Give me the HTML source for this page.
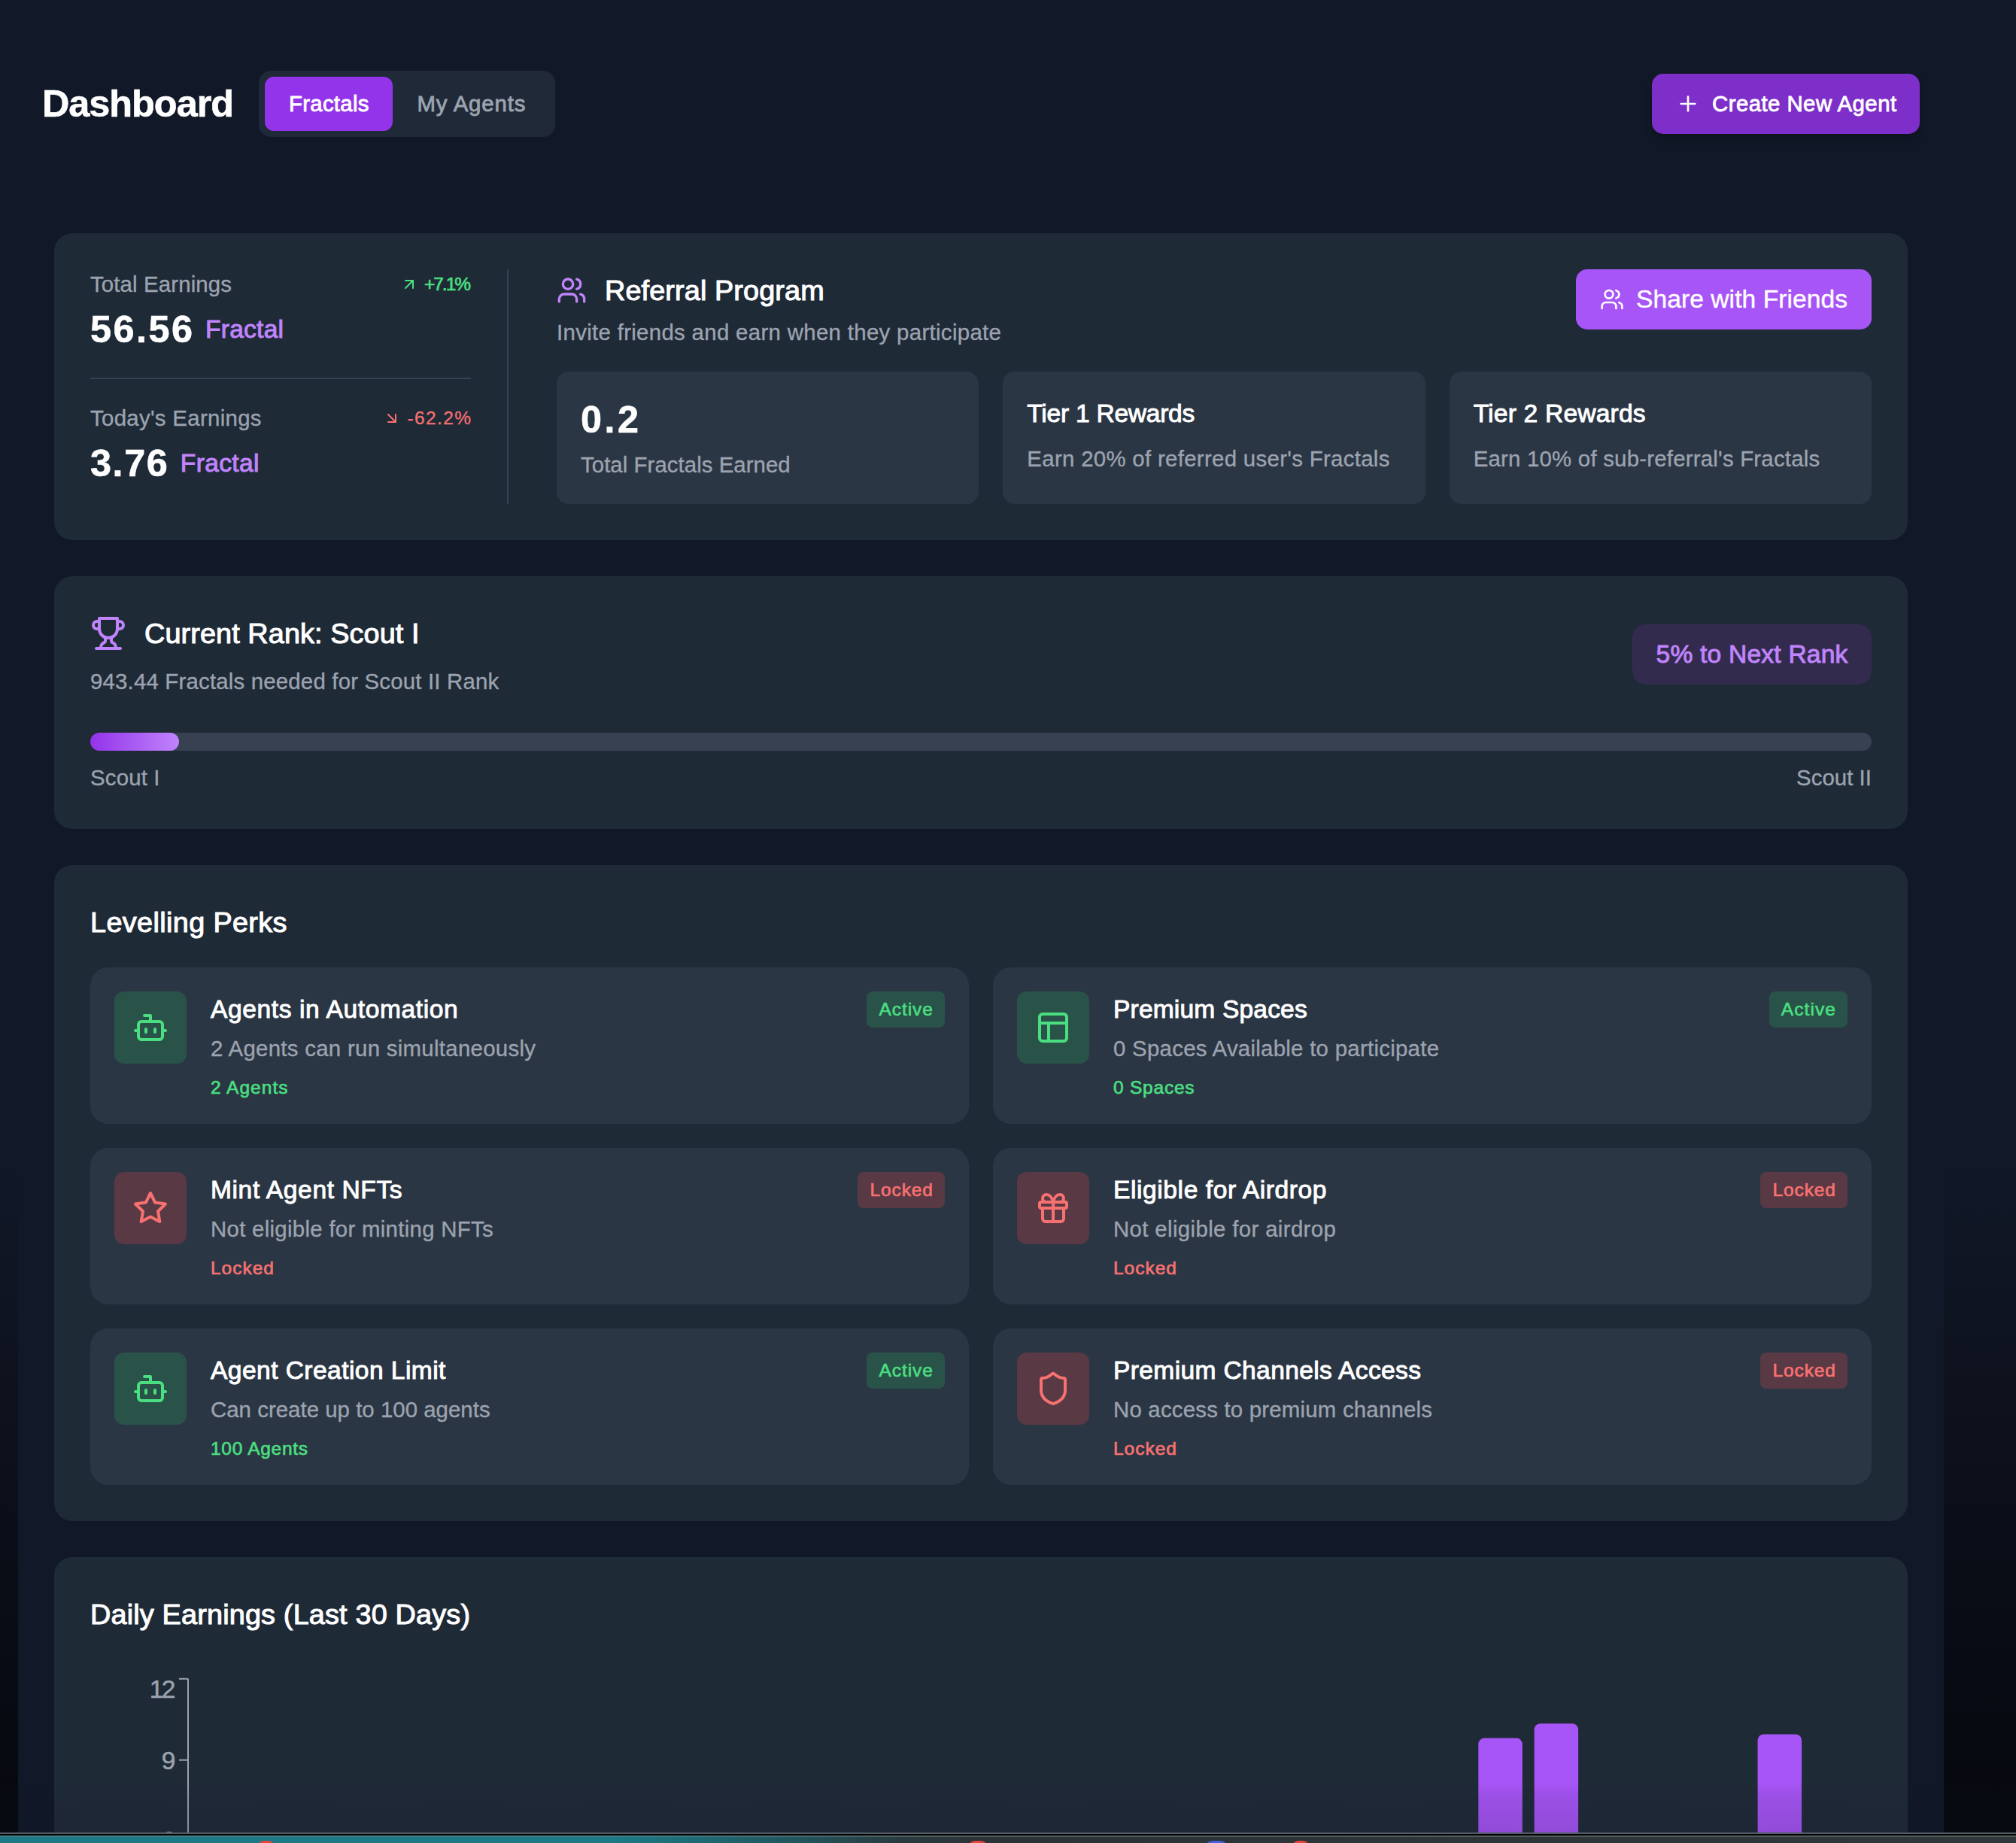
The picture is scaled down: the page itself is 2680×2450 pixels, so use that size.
<!DOCTYPE html>
<html lang="en">
<head>
<meta charset="utf-8">
<title>Dashboard</title>
<style>
*{box-sizing:border-box;margin:0;padding:0}
html,body{width:2680px;height:2450px;overflow:hidden}
body{font-family:"Liberation Sans",sans-serif;color:#fff;position:relative;
 background:linear-gradient(to bottom,#111827 0px,#111827 1550px,#0e131f 1800px,#0b0e18 2050px,#080a12 2300px,#06080d 2436px);}
.main{position:absolute;left:24px;top:0;width:2560px;height:2436px;background:#111827}
.abs{position:absolute}
.t{display:inline-block;white-space:nowrap;-webkit-text-stroke:0.012em currentColor}
svg.ic{display:block;fill:none;stroke:currentColor;stroke-width:2;stroke-linecap:round;stroke-linejoin:round}
.g4{color:#9ca3af}
.p4{color:#c084fc}
.gr{color:#4ade80}
.rd{color:#f87171}
.med{-webkit-text-stroke:0.028em currentColor}
.b{font-weight:700}
/* font sizes (Inter px -> Liberation px *1.05) */
.f24{font-size:24.5px;line-height:32px}
.f28{font-size:29.4px;line-height:40px}
.f32{font-size:33.6px;line-height:48px}
.f36{font-size:37.8px;line-height:56px}
.f48{font-size:50.4px;line-height:64px}
.card{position:absolute;left:72px;width:2464px;background:#1f2a37;border-radius:24px;padding:48px}
.row{display:flex;align-items:center}
.sb{justify-content:space-between}
/* header */
.tabs{position:absolute;left:344px;top:94px;height:88px;width:394px;background:#1f2937;border-radius:16px;padding:8px;display:flex}
.tab{height:72px;border-radius:12px;padding:0 32px;display:flex;align-items:center}
.tab.on{background:#9333ea}
.create{position:absolute;left:2196px;top:98px;width:356px;height:80px;border-radius:15px;background:#7e2fc9;display:flex;align-items:center;padding-left:32px;
 box-shadow:0 8px 12px -2px rgba(0,0,0,.25)}

/* card1 */
.c1{top:310px;height:408px}
.c1 .left{position:absolute;left:48px;top:48px;width:506px}
.c1 .vline{position:absolute;left:602px;top:48px;width:2px;height:312px;background:#374151}
.c1 .hline{margin-top:32px;height:2px;background:#374151;margin-bottom:32px}
.c1 .right{position:absolute;left:668px;top:48px;width:1748px}
.pct{display:flex;align-items:center}
.pct svg{margin-right:8px}
.valrow{display:flex;align-items:center;margin-top:8px;height:64px}
.valrow .fr{margin-left:17px}
.share{position:absolute;right:0;top:0;width:393px;height:80px;border-radius:15px;background:#a855f7;display:flex;align-items:center;padding-left:32px}
.inner{background:rgba(55,65,81,.5);border-radius:16px}
.tiers{display:flex;gap:32px;margin-top:32px}
.tiers .inner{flex:1 1 0;height:176px;padding:32px}

/* card2 */
.c2{top:766px;height:336px}
.badge-next{width:318px;height:80px;border-radius:18px;background:#332b4e;display:flex;align-items:center;justify-content:center}
.bar{margin-top:48px;height:24px;border-radius:12px;background:#374151;overflow:hidden}
.bar i{display:block;height:24px;width:118px;border-radius:12px;background:linear-gradient(to right,#9333ea,#c084fc)}
/* card3 */
.c3{top:1150px;height:872px}
.perks{display:grid;grid-template-columns:1168px 1168px;gap:32px;margin-top:32px}
.perk{height:208px;padding:32px;position:relative;border-radius:24px}
.perk .ib{position:absolute;left:32px;top:32px;width:96px;height:96px;border-radius:13px;display:flex;align-items:center;justify-content:center}
.perk .ib.gr{background:rgba(34,197,94,.2)}
.perk .ib.rd{background:rgba(239,68,68,.23)}
.perk .tx{margin-left:128px}
.perk .bd{position:absolute;right:32px;top:32px;height:48px;border-radius:8px;padding:8px 16px}
.perk .bd.gr{background:rgba(34,197,94,.2)}
.perk .bd.rd{background:rgba(239,68,68,.23)}

/* card4 */
.c4{top:2070px;height:380px;border-radius:24px 24px 0 0;overflow:hidden}
.chart{position:absolute;left:48px;top:152px}
.chart text{font-family:"Liberation Sans",sans-serif;font-size:33.6px;fill:#9ca3af;text-anchor:end;stroke:#9ca3af;stroke-width:.5px}
/* bottom */
.shade{position:absolute;left:0;top:2368px;width:2680px;height:68px;background:linear-gradient(to bottom,rgba(17,20,45,0) 0,rgba(17,20,45,.09) 22px,rgba(15,18,38,.15) 68px)}
.bl1{position:absolute;left:0;top:2436px;width:2680px;height:2px;background:#535b65}
.bl2{position:absolute;left:0;top:2438px;width:2680px;height:2px;background:#000}
.bl3{position:absolute;left:0;top:2440px;width:2680px;height:2px;background:linear-gradient(to right,#3f7e87 0,#3f7e87 850px,#4d6568 1100px,#525b5d 1300px,#525a5c 2680px)}
.dock{position:absolute;left:0;top:2442px;width:2680px;height:8px;background:linear-gradient(to right,#1b7a85 0,#1b7a85 820px,#22555d 1060px,#293a3e 1200px,#2c3336 1320px,#30373a 2680px)}
.blob{position:absolute;top:2446.5px;height:3.5px;border-radius:50% 50% 0 0/100% 100% 0 0}
/*SECTION_CSS*/
#t_dash{letter-spacing:-1.026px;margin-right:1.026px}
#t_tab1{letter-spacing:0.269px;margin-right:-0.269px}
#t_tab2{letter-spacing:0.847px;margin-right:-0.847px}
#t_create{letter-spacing:0.437px;margin-right:-0.437px}
#t_te{letter-spacing:0.135px;margin-right:-0.135px}
#t_p1{letter-spacing:-2.038px;margin-right:2.038px}
#t_v1{letter-spacing:2.473px;margin-right:-2.473px}
#t_f1{letter-spacing:0.230px;margin-right:-0.230px}
#t_tde{letter-spacing:0.306px;margin-right:-0.306px}
#t_p2{letter-spacing:1.374px;margin-right:-1.374px}
#t_v2{letter-spacing:1.571px;margin-right:-1.571px}
#t_f2{letter-spacing:0.329px;margin-right:-0.329px}
#t_ref{letter-spacing:0.122px;margin-right:-0.122px}
#t_inv{letter-spacing:0.322px;margin-right:-0.322px}
#t_share{letter-spacing:0.062px;margin-right:-0.062px}
#t_02{letter-spacing:3.469px;margin-right:-3.469px}
#t_tfe{letter-spacing:0.050px;margin-right:-0.050px}
#t_t1{letter-spacing:-0.263px;margin-right:0.263px}
#t_t1d{letter-spacing:0.310px;margin-right:-0.310px}
#t_t2{letter-spacing:0.199px;margin-right:-0.199px}
#t_t2d{letter-spacing:0.218px;margin-right:-0.218px}
#t_rank{letter-spacing:0.104px;margin-right:-0.104px}
#t_need{letter-spacing:0.187px;margin-right:-0.187px}
#t_next{letter-spacing:0.203px;margin-right:-0.203px}
#t_s1{letter-spacing:0.168px;margin-right:-0.168px}
#t_s2{letter-spacing:0.048px;margin-right:-0.048px}
#t_lp{letter-spacing:0.370px;margin-right:-0.370px}
#t_l1t{letter-spacing:0.598px;margin-right:-0.598px}
#t_l1d{letter-spacing:0.295px;margin-right:-0.295px}
#t_l1v{letter-spacing:1.018px;margin-right:-1.018px}
#t_l1b{letter-spacing:0.977px;margin-right:-0.977px}
#t_l2t{letter-spacing:0.590px;margin-right:-0.590px}
#t_l2d{letter-spacing:0.293px;margin-right:-0.293px}
#t_l2v{letter-spacing:0.999px;margin-right:-0.999px}
#t_l2b{letter-spacing:0.916px;margin-right:-0.916px}
#t_l3t{letter-spacing:0.430px;margin-right:-0.430px}
#t_l3d{letter-spacing:0.026px;margin-right:-0.026px}
#t_l3v{letter-spacing:0.708px;margin-right:-0.708px}
#t_l3b{letter-spacing:0.977px;margin-right:-0.977px}
#t_r1t{letter-spacing:0.157px;margin-right:-0.157px}
#t_r1d{letter-spacing:0.273px;margin-right:-0.273px}
#t_r1v{letter-spacing:0.777px;margin-right:-0.777px}
#t_r1b{letter-spacing:1.116px;margin-right:-1.116px}
#t_r2t{letter-spacing:0.579px;margin-right:-0.579px}
#t_r2d{letter-spacing:0.360px;margin-right:-0.360px}
#t_r2v{letter-spacing:0.999px;margin-right:-0.999px}
#t_r2b{letter-spacing:0.916px;margin-right:-0.916px}
#t_r3t{letter-spacing:0.353px;margin-right:-0.353px}
#t_r3d{letter-spacing:0.207px;margin-right:-0.207px}
#t_r3v{letter-spacing:0.999px;margin-right:-0.999px}
#t_r3b{letter-spacing:0.916px;margin-right:-0.916px}
#t_de{letter-spacing:0.179px;margin-right:-0.179px}
@media (max-width:1400px) and (min-resolution:1.5dppx){html{zoom:.5}}
</style>
</head>
<body>
<div class="main"></div>

<!-- header -->
<div class="abs" style="left:56px;top:106px"><span class="t f48 b" id="t_dash">Dashboard</span></div>
<div class="tabs">
  <div class="tab on"><span class="t f28 med" id="t_tab1">Fractals</span></div>
  <div class="tab g4"><span class="t f28 med" id="t_tab2">My Agents</span></div>
</div>
<div class="create">
  <svg class="ic" width="32" height="32" viewBox="0 0 24 24"><path d="M5 12h14"/><path d="M12 5v14"/></svg>
  <span class="t f28 med" id="t_create" style="margin-left:16px">Create New Agent</span>
</div>


<div class="card c1">
  <div class="left">
    <div class="row sb" style="height:40px">
      <span class="t f28 g4" id="t_te">Total Earnings</span>
      <span class="pct gr"><svg class="ic" width="24" height="24" viewBox="0 0 24 24"><path d="M7 7h10v10"/><path d="M7 17 17 7"/></svg><span class="t f24 med" id="t_p1">+7.1%</span></span>
    </div>
    <div class="valrow"><span class="t f48 b" id="t_v1">56.56</span><span class="t f32 med p4 fr" id="t_f1">Fractal</span></div>
    <div class="hline"></div>
    <div class="row sb" style="height:40px">
      <span class="t f28 g4" id="t_tde">Today's Earnings</span>
      <span class="pct rd"><svg class="ic" width="24" height="24" viewBox="0 0 24 24"><path d="m7 7 10 10"/><path d="M17 7v10H7"/></svg><span class="t f24" id="t_p2">-62.2%</span></span>
    </div>
    <div class="valrow"><span class="t f48 b" id="t_v2">3.76</span><span class="t f32 med p4 fr" id="t_f2">Fractal</span></div>
  </div>
  <div class="vline"></div>
  <div class="right">
    <div class="row" style="height:56px">
      <svg class="ic p4" width="40" height="40" viewBox="0 0 24 24"><path d="M16 21v-2a4 4 0 0 0-4-4H6a4 4 0 0 0-4 4v2"/><circle cx="9" cy="7" r="4"/><path d="M22 21v-2a4 4 0 0 0-3-3.870"/><path d="M16 3.130a4 4 0 0 1 0 7.750"/></svg>
      <span class="t f36 med" id="t_ref" style="margin-left:24px">Referral Program</span>
    </div>
    <div style="margin-top:8px;height:40px"><span class="t f28 g4" id="t_inv">Invite friends and earn when they participate</span></div>
    <div class="share">
      <svg class="ic" width="32" height="32" viewBox="0 0 24 24"><path d="M16 21v-2a4 4 0 0 0-4-4H6a4 4 0 0 0-4 4v2"/><circle cx="9" cy="7" r="4"/><path d="M22 21v-2a4 4 0 0 0-3-3.870"/><path d="M16 3.130a4 4 0 0 1 0 7.750"/></svg>
      <span class="t f32" id="t_share" style="margin-left:16px">Share with Friends</span>
    </div>
    <div class="tiers">
      <div class="inner">
        <div style="height:64px"><span class="t f48 b" id="t_02">0.2</span></div>
        <div style="margin-top:8px;height:40px"><span class="t f28 g4" id="t_tfe">Total Fractals Earned</span></div>
      </div>
      <div class="inner">
        <div style="height:48px"><span class="t f32 med" id="t_t1">Tier 1 Rewards</span></div>
        <div style="margin-top:16px;height:40px"><span class="t f28 g4" id="t_t1d">Earn 20% of referred user's Fractals</span></div>
      </div>
      <div class="inner">
        <div style="height:48px"><span class="t f32 med" id="t_t2">Tier 2 Rewards</span></div>
        <div style="margin-top:16px;height:40px"><span class="t f28 g4" id="t_t2d">Earn 10% of sub-referral's Fractals</span></div>
      </div>
    </div>
  </div>
</div>
<!--CARD1-->

<div class="card c2">
  <div class="row sb" style="height:112px">
    <div>
      <div class="row" style="height:56px">
        <svg class="ic p4" width="48" height="48" viewBox="0 0 24 24"><path d="M6 9H4.500a2.500 2.500 0 0 1 0-5H6"/><path d="M18 9h1.500a2.500 2.500 0 0 0 0-5H18"/><path d="M4 22h16"/><path d="M10 14.660V17c0 .550-.470.980-.970 1.210C7.850 18.750 7 20.240 7 22"/><path d="M14 14.660V17c0 .550.470.980.970 1.210C16.150 18.750 17 20.240 17 22"/><path d="M18 2H6v7a6 6 0 0 0 12 0V2Z"/></svg>
        <span class="t f36 med" id="t_rank" style="margin-left:24px">Current Rank: Scout I</span>
      </div>
      <div style="margin-top:16px;height:40px"><span class="t f28 g4" id="t_need">943.44 Fractals needed for Scout II Rank</span></div>
    </div>
    <div class="badge-next"><span class="t f32 med p4" id="t_next">5% to Next Rank</span></div>
  </div>
  <div class="bar"><i></i></div>
  <div class="row sb" style="margin-top:16px;height:40px"><span class="t f28 g4" id="t_s1">Scout I</span><span class="t f28 g4" id="t_s2">Scout II</span></div>
</div>
<!--CARD2-->

<div class="card c3">
  <div style="height:56px"><span class="t f36 med" id="t_lp">Levelling Perks</span></div>
  <div class="perks">
    <div class="perk inner">
      <div class="ib gr"><svg class="ic" width="48" height="48" viewBox="0 0 24 24"><path d="M12 8V4H8"/><rect width="16" height="12" x="4" y="8" rx="2"/><path d="M2 14h2"/><path d="M20 14h2"/><path d="M15 13v2"/><path d="M9 13v2"/></svg></div>
      <div class="tx">
        <div style="height:48px"><span class="t f32 med" id="t_l1t">Agents in Automation</span></div>
        <div style="margin-top:8px;height:40px"><span class="t f28 g4" id="t_l1d">2 Agents can run simultaneously</span></div>
        <div style="margin-top:16px;height:32px"><span class="t f24 med gr" id="t_l1v">2 Agents</span></div>
      </div>
      <div class="bd gr"><span class="t f24 med" id="t_l1b">Active</span></div>
    </div>
    <div class="perk inner">
      <div class="ib gr"><svg class="ic" width="48" height="48" viewBox="0 0 24 24"><rect width="18" height="18" x="3" y="3" rx="2"/><path d="M3 9h18"/><path d="M9 21V9"/></svg></div>
      <div class="tx">
        <div style="height:48px"><span class="t f32 med" id="t_r1t">Premium Spaces</span></div>
        <div style="margin-top:8px;height:40px"><span class="t f28 g4" id="t_r1d">0 Spaces Available to participate</span></div>
        <div style="margin-top:16px;height:32px"><span class="t f24 med gr" id="t_r1v">0 Spaces</span></div>
      </div>
      <div class="bd gr"><span class="t f24 med" id="t_r1b">Active</span></div>
    </div>
    <div class="perk inner">
      <div class="ib rd"><svg class="ic" width="48" height="48" viewBox="0 0 24 24"><polygon points="12 2 15.090 8.260 22 9.270 17 14.140 18.180 21.020 12 17.770 5.820 21.020 7 14.140 2 9.270 8.910 8.260 12 2"/></svg></div>
      <div class="tx">
        <div style="height:48px"><span class="t f32 med" id="t_l2t">Mint Agent NFTs</span></div>
        <div style="margin-top:8px;height:40px"><span class="t f28 g4" id="t_l2d">Not eligible for minting NFTs</span></div>
        <div style="margin-top:16px;height:32px"><span class="t f24 med rd" id="t_l2v">Locked</span></div>
      </div>
      <div class="bd rd"><span class="t f24 med" id="t_l2b">Locked</span></div>
    </div>
    <div class="perk inner">
      <div class="ib rd"><svg class="ic" width="48" height="48" viewBox="0 0 24 24"><rect x="3" y="8" width="18" height="4" rx="1"/><path d="M12 8v13"/><path d="M19 12v7a2 2 0 0 1-2 2H7a2 2 0 0 1-2-2v-7"/><path d="M7.500 8a2.500 2.500 0 0 1 0-5A4.800 8 0 0 1 12 8a4.800 8 0 0 1 4.500-5 2.500 2.500 0 0 1 0 5"/></svg></div>
      <div class="tx">
        <div style="height:48px"><span class="t f32 med" id="t_r2t">Eligible for Airdrop</span></div>
        <div style="margin-top:8px;height:40px"><span class="t f28 g4" id="t_r2d">Not eligible for airdrop</span></div>
        <div style="margin-top:16px;height:32px"><span class="t f24 med rd" id="t_r2v">Locked</span></div>
      </div>
      <div class="bd rd"><span class="t f24 med" id="t_r2b">Locked</span></div>
    </div>
    <div class="perk inner">
      <div class="ib gr"><svg class="ic" width="48" height="48" viewBox="0 0 24 24"><path d="M12 8V4H8"/><rect width="16" height="12" x="4" y="8" rx="2"/><path d="M2 14h2"/><path d="M20 14h2"/><path d="M15 13v2"/><path d="M9 13v2"/></svg></div>
      <div class="tx">
        <div style="height:48px"><span class="t f32 med" id="t_l3t">Agent Creation Limit</span></div>
        <div style="margin-top:8px;height:40px"><span class="t f28 g4" id="t_l3d">Can create up to 100 agents</span></div>
        <div style="margin-top:16px;height:32px"><span class="t f24 med gr" id="t_l3v">100 Agents</span></div>
      </div>
      <div class="bd gr"><span class="t f24 med" id="t_l3b">Active</span></div>
    </div>
    <div class="perk inner">
      <div class="ib rd"><svg class="ic" width="48" height="48" viewBox="0 0 24 24"><path d="M20 13c0 5-3.500 7.500-7.660 8.950a1 1 0 0 1-.670-.010C7.500 20.500 4 18 4 13V6a1 1 0 0 1 1-1c2 0 4.500-1.200 6.240-2.720a1.170 1.170 0 0 1 1.520 0C14.510 3.810 17 5 19 5a1 1 0 0 1 1 1z"/></svg></div>
      <div class="tx">
        <div style="height:48px"><span class="t f32 med" id="t_r3t">Premium Channels Access</span></div>
        <div style="margin-top:8px;height:40px"><span class="t f28 g4" id="t_r3d">No access to premium channels</span></div>
        <div style="margin-top:16px;height:32px"><span class="t f24 med rd" id="t_r3v">Locked</span></div>
      </div>
      <div class="bd rd"><span class="t f24 med" id="t_r3b">Locked</span></div>
    </div>
  </div>
</div>
<!--CARD3-->

<div class="card c4">
  <div style="height:56px"><span class="t f36 med" id="t_de">Daily Earnings (Last 30 Days)</span></div>
  <svg class="chart" width="2368" height="228" viewBox="0 0 2368 228"><path fill="#a855f7" d="M1845.3 400V96.6a8 8 0 0 1 8-8h42.5a8 8 0 0 1 8 8V400z"/><path fill="#a855f7" d="M1919.6 400V77.2a8 8 0 0 1 8-8h42.5a8 8 0 0 1 8 8V400z"/><path fill="#a855f7" d="M2216.6 400V91.5a8 8 0 0 1 8-8h42.5a8 8 0 0 1 8 8V400z"/><path d="M130 9.8V400" stroke="#9ca3af" stroke-width="2" fill="none"/><path d="M118 9.8H130" stroke="#9ca3af" stroke-width="2" fill="none"/><path d="M118 117.7H130" stroke="#9ca3af" stroke-width="2" fill="none"/><path d="M118 225.6H130" stroke="#9ca3af" stroke-width="2" fill="none"/><text x="97.4 113.5" y="35.0">12</text><text x="113.5" y="129.5">9</text><text x="113.5" y="236.4">6</text></svg>
</div>
<!--CARD4-->

<div class="shade"></div>
<div class="bl1"></div><div class="bl2"></div><div class="bl3"></div><div class="dock"></div>
<div class="blob" style="left:345px;width:18px;background:#e8453c"></div>
<div class="blob" style="left:1290px;width:20px;background:#e8453c"></div>
<div class="blob" style="left:1605px;width:24px;background:#4460e0"></div>
<div class="blob" style="left:1720px;width:18px;background:#e8453c"></div>
<!--BOTTOM-->
</body>
</html>
